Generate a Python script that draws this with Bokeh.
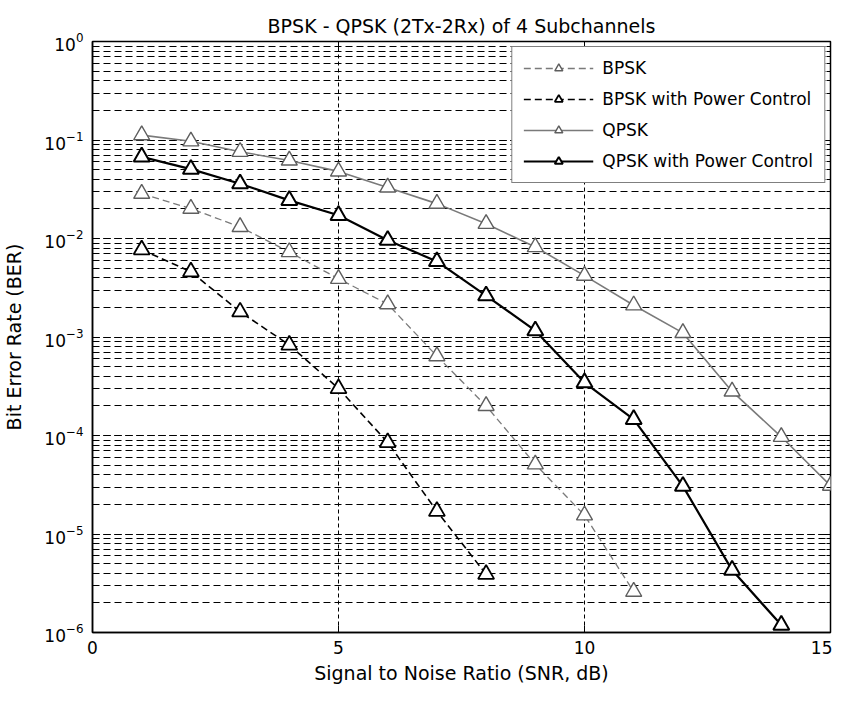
from bokeh.plotting import figure
from bokeh.models import (Range1d, FixedTicker, LogTicker, LogAxis, LinearAxis,
                          CustomJSTickFormatter)
from bokeh.embed import file_html
from bokeh.resources import INLINE

# ---- data ----
snr_bpsk = [1, 2, 3, 4, 5, 6, 7, 8, 9, 10, 11]
ber_bpsk = [0.0285, 0.0201, 0.0131, 0.0073, 0.0039, 0.00216, 6.4e-4, 2.0e-4, 5.1e-5, 1.55e-5, 2.6e-6]

snr_bpsk_pc = [1, 2, 3, 4, 5, 6, 7, 8]
ber_bpsk_pc = [0.0077, 0.0046, 0.0018, 8.3e-4, 3.0e-4, 8.5e-5, 1.7e-5, 3.9e-6]

snr_qpsk = [1, 2, 3, 4, 5, 6, 7, 8, 9, 10, 11, 12, 13, 14, 15]
ber_qpsk = [0.112, 0.097, 0.076, 0.062, 0.048, 0.033, 0.0226, 0.0141, 0.0082, 0.0042,
            0.0021, 0.0011, 2.8e-4, 9.7e-5, 3.1e-5]

snr_qpsk_pc = [1, 2, 3, 4, 5, 6, 7, 8, 9, 10, 11, 12, 13, 14]
ber_qpsk_pc = [0.0675, 0.0506, 0.036, 0.0244, 0.0172, 0.0096, 0.00585, 0.00263, 0.00116,
               3.45e-4, 1.46e-4, 3.06e-5, 4.3e-6, 1.19e-6]

x_ticks = [0, 5, 10, 15]

FONT = "DejaVu Sans"

p = figure(width=832, height=687, y_axis_type="log",
           x_range=Range1d(0, 15), y_range=Range1d(1e-6, 1),
           output_backend="svg", toolbar_location=None,
           min_border_left=83, min_border_right=2, min_border_top=41, min_border_bottom=55,
           title="BPSK - QPSK (2Tx-2Rx) of 4 Subchannels")

p.background_fill_color = "white"
p.border_fill_color = "white"
p.outline_line_color = "black"
p.outline_line_width = 1.5

p.title.align = "center"
p.title.text_font = FONT
p.title.text_font_size = "19px"
p.title.text_font_style = "normal"
p.title.text_color = "black"
p.title.standoff = 10

# axes
p.xaxis.ticker = FixedTicker(ticks=x_ticks)
p.yaxis.ticker = LogTicker(num_minor_ticks=10)
for ax in (p.xaxis[0], p.yaxis[0]):
    ax.axis_line_color = "black"
    ax.axis_line_width = 1.5
    ax.major_tick_in = 7
    ax.major_tick_out = 0
    ax.minor_tick_in = 4
    ax.minor_tick_out = 0
    ax.major_tick_line_color = "black"
    ax.minor_tick_line_color = "black"
    ax.major_label_text_font = FONT
    ax.major_label_text_font_size = "17px"
    ax.major_label_text_color = "black"
    ax.axis_label_text_font = FONT
    ax.axis_label_text_font_size = "19px"
    ax.axis_label_text_font_style = "normal"
    ax.axis_label_text_color = "black"
p.xaxis.minor_tick_line_color = None
p.xaxis.axis_label = "Signal to Noise Ratio (SNR, dB)"
p.yaxis.axis_label = "Bit Error Rate (BER)"
p.xaxis.major_label_standoff = 8
p.xaxis.axis_label_standoff = 5
p.yaxis.major_label_standoff = 9
p.yaxis.axis_label_standoff = 16

# mirrored tick marks on the top and right edges (no labels)
blank = CustomJSTickFormatter(code="return ''")
top_ax = LinearAxis(ticker=FixedTicker(ticks=x_ticks), formatter=blank,
                    axis_line_color=None, major_tick_in=7, major_tick_out=0,
                    major_tick_line_color="black", minor_tick_line_color=None,
                    major_label_standoff=0)
p.add_layout(top_ax, "above")
right_ax = LogAxis(ticker=LogTicker(num_minor_ticks=10), formatter=blank,
                   axis_line_color=None, major_tick_in=7, major_tick_out=0,
                   minor_tick_in=4, minor_tick_out=0,
                   major_tick_line_color="black", minor_tick_line_color="black",
                   major_label_standoff=0)
p.add_layout(right_ax, "right")

# grids
p.xgrid.grid_line_color = "black"
p.xgrid.grid_line_dash = "4 3"
p.xgrid.grid_line_width = 1
p.ygrid.grid_line_color = "black"
p.ygrid.grid_line_dash = "7 4"
p.ygrid.grid_line_width = 1
p.ygrid.minor_grid_line_color = "black"
p.ygrid.minor_grid_line_dash = "7 4"
p.ygrid.minor_grid_line_width = 1

GRAY = "#7a7a7a"

# series
p.line(snr_bpsk, ber_bpsk, line_color=GRAY, line_width=1.3, line_dash="7 4", legend_label="BPSK")
p.scatter(snr_bpsk, ber_bpsk, marker="triangle", size=16, line_color="#5e5e5e", line_width=1.4,
          fill_color="white", legend_label="BPSK")

p.line(snr_bpsk_pc, ber_bpsk_pc, line_color="black", line_width=1.6, line_dash="7 4",
       legend_label="BPSK with Power Control")
p.scatter(snr_bpsk_pc, ber_bpsk_pc, marker="triangle", size=16, line_color="black", line_width=1.8,
          fill_color="white", legend_label="BPSK with Power Control")

p.line(snr_qpsk, ber_qpsk, line_color=GRAY, line_width=1.6, legend_label="QPSK")
p.scatter(snr_qpsk, ber_qpsk, marker="triangle", size=16, line_color="#5e5e5e", line_width=1.4,
          fill_color="white", legend_label="QPSK")

p.line(snr_qpsk_pc, ber_qpsk_pc, line_color="black", line_width=2.2, legend_label="QPSK with Power Control")
p.scatter(snr_qpsk_pc, ber_qpsk_pc, marker="triangle", size=16, line_color="black", line_width=2,
          fill_color="white", legend_label="QPSK with Power Control")

# legend
lg = p.legend[0]
lg.location = "top_right"
lg.margin = 5
lg.padding = 11
lg.spacing = 11
lg.glyph_width = 70
lg.glyph_height = 20
lg.label_standoff = 9
lg.label_text_font = FONT
lg.label_text_font_size = "17px"
lg.label_text_color = "black"
lg.border_line_color = "black"
lg.border_line_width = 1
lg.background_fill_color = "white"
lg.background_fill_alpha = 1

open("out.html", "w").write(file_html(p, INLINE))
